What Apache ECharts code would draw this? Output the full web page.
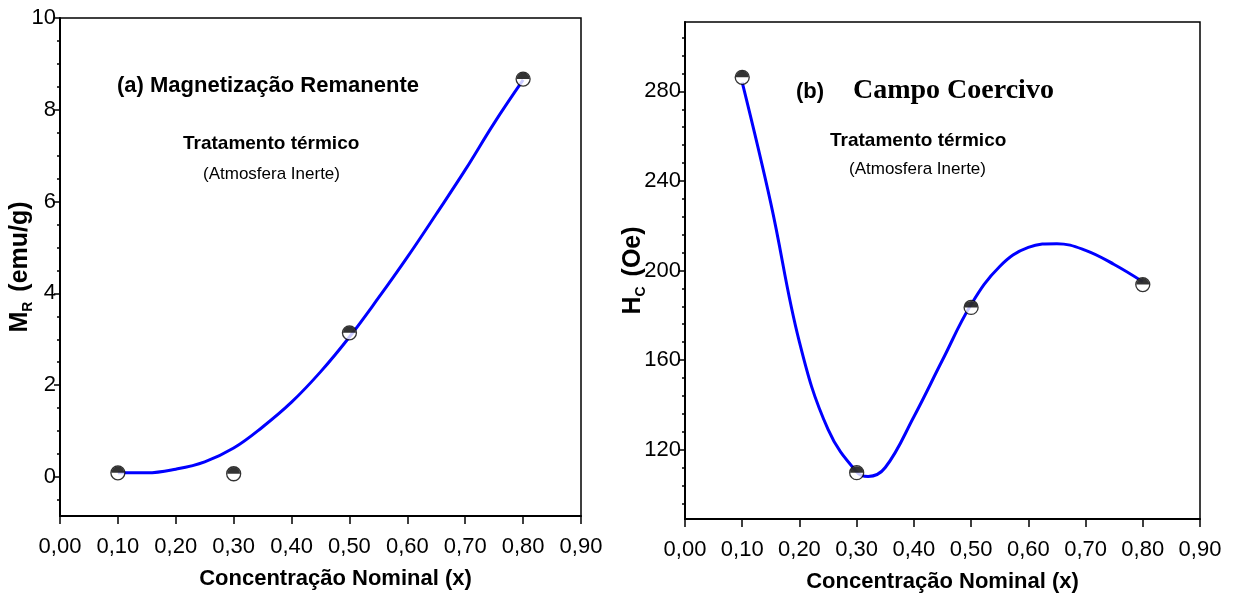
<!DOCTYPE html>
<html>
<head>
<meta charset="utf-8">
<script src="https://cdn.jsdelivr.net/npm/echarts@6/dist/echarts.min.js"></script>
<style>html,body{margin:0;padding:0;background:#fff;}#c{width:1234px;height:593px;}</style>
</head>
<body>
<div id="c"></div>
<script>
// ---- Data ----
var concentrations = [0.1, 0.3, 0.5, 0.8];
var remanence = [0.09, 0.07, 3.14, 8.67];          // M_R (emu/g)
var coercivity = [286.3, 109.7, 183.5, 193.7];      // H_C (Oe)

// fitted curves
var fitX_a = [0.1, 0.15, 0.2, 0.25, 0.3, 0.35, 0.4, 0.45, 0.5, 0.55, 0.6, 0.65, 0.7, 0.75, 0.8];
var fitY_a = [0.09, 0.09, 0.17, 0.33, 0.63, 1.09, 1.63, 2.29, 3.05, 3.9, 4.79, 5.73, 6.69, 7.71, 8.65];
var fitX_b = [0.1, 0.15, 0.2, 0.25, 0.3, 0.32, 0.35, 0.4, 0.45, 0.5, 0.55, 0.6, 0.65, 0.7, 0.75, 0.8];
var fitY_b = [284, 230, 168, 129, 110, 108, 112, 134.7, 160, 184.8, 201.8, 210.3, 212, 209, 202.7, 195];

var yTicks_a = [0, 2, 4, 6, 8, 10];
var yTicks_b = [120, 160, 200, 240, 280];
var xTitle = 'Concentração Nominal (x)';

function pairs(xs, ys) { return xs.map(function (x, i) { return [x, ys[i]]; }); }
function range(start, end, step, skipStep) {
  var out = [];
  for (var v = start; v <= end + 1e-9; v += step) {
    var r = Math.round(v * 1000) / 1000;
    if (Math.abs(r / skipStep - Math.round(r / skipStep)) > 1e-6) out.push(r);
  }
  return out;
}

var FONT = 'Liberation Sans';
var HALF = 'path://M0,10 A10,10 0 0 1 20,10 Z';

function xAxisCfg(gi, padLeft) {
  return {
    type: 'value', gridIndex: gi, min: 0, max: 0.9, interval: 0.1,
    name: xTitle, nameLocation: 'middle', nameGap: 52, nameMoveOverlap: false,
    nameTextStyle: { fontFamily: FONT, fontWeight: 'bold', fontSize: 22, color: '#000', padding: [0, 0, 0, padLeft] },
    axisLine: { show: true, onZero: false, lineStyle: { color: '#000', width: 2 } },
    axisTick: { show: true, inside: false, length: 8, lineStyle: { color: '#000', width: 1.5 } },
    axisLabel: { fontFamily: FONT, fontSize: 22, color: '#000', margin: 20,
      formatter: function (v) { return v.toFixed(2).replace('.', ','); } },
    splitLine: { show: false }
  };
}
function yMainCfg(gi, min, max, ticks, nameRich, gap) {
  return {
    type: 'value', gridIndex: gi, min: min, max: max,
    name: nameRich, nameLocation: 'middle', nameGap: gap, nameRotate: 90, nameMoveOverlap: false,
    nameTextStyle: { fontFamily: FONT, fontWeight: 'bold', fontSize: 25, color: '#000',
      rich: {
        m: { fontFamily: FONT, fontWeight: 'bold', fontSize: 25, color: '#000' },
        s: { fontFamily: FONT, fontWeight: 'bold', fontSize: 14, color: '#000', padding: [16, 3, 0, 0] }
      } },
    axisLine: { show: true, onZero: false, lineStyle: { color: '#000', width: 2 } },
    axisTick: { show: true, inside: false, length: 6, customValues: ticks, lineStyle: { color: '#000', width: 1.5 } },
    axisLabel: { fontFamily: FONT, fontSize: 22, color: '#000', margin: 4, customValues: ticks },
    splitLine: { show: false }
  };
}
function yMinorCfg(gi, min, max, minors) {
  return {
    type: 'value', gridIndex: gi, min: min, max: max, position: 'left',
    axisLine: { show: false, onZero: false },
    axisTick: { show: true, inside: false, length: 3, customValues: minors, lineStyle: { color: '#000', width: 1.5 } },
    axisLabel: { show: false, customValues: minors },
    splitLine: { show: false }
  };
}

var minA = -0.85, maxA = 10, minB = 89, maxB = 311;

function markerSeries(xi, yi, data) {
  return [
    { type: 'scatter', xAxisIndex: xi, yAxisIndex: yi, data: data, symbol: 'circle', symbolSize: 14,
      itemStyle: { color: '#fff', borderColor: '#000', borderWidth: 1.3 }, z: 5, silent: true },
    { type: 'scatter', xAxisIndex: xi, yAxisIndex: yi, data: data, symbol: HALF, symbolSize: [13, 6.5],
      symbolOffset: [0, -3.25], itemStyle: { color: '#000' }, z: 6, silent: true }
  ];
}

var option = {
  animation: false,
  backgroundColor: '#fff',
  grid: [
    { left: 60, top: 18, width: 521, height: 498, containLabel: false, outerBoundsMode: 'none',
      show: true, borderColor: '#000', borderWidth: 1.5, backgroundColor: 'transparent' },
    { left: 685, top: 22, width: 515, height: 497, containLabel: false, outerBoundsMode: 'none',
      show: true, borderColor: '#000', borderWidth: 1.5, backgroundColor: 'transparent' }
  ],
  xAxis: [xAxisCfg(0, 30), xAxisCfg(1, 0)],
  yAxis: [
    yMainCfg(0, minA, maxA, yTicks_a, '{m|M}{s|R}{m| (emu/g)}', 25),
    yMainCfg(1, minB, maxB, yTicks_b, '{m|H}{s|C}{m| (Oe)}', 37),
    yMinorCfg(0, minA, maxA, range(-0.5, 9.5, 0.5, 2)),
    yMinorCfg(1, minB, maxB, range(96, 304, 8, 40))
  ],
  series: [
    { type: 'line', xAxisIndex: 0, yAxisIndex: 0, data: pairs(fitX_a, fitY_a), smooth: 0.4, symbol: 'none',
      lineStyle: { color: '#0000ff', width: 3 }, z: 3, silent: true },
    { type: 'line', xAxisIndex: 1, yAxisIndex: 1, data: pairs(fitX_b, fitY_b), smooth: 0.4, symbol: 'none',
      lineStyle: { color: '#0000ff', width: 3 }, z: 3, silent: true }
  ].concat(markerSeries(0, 0, pairs(concentrations, remanence)))
   .concat(markerSeries(1, 1, pairs(concentrations, coercivity))),
  graphic: [
    { type: 'text', left: 117, top: 75, style: { text: '(a) Magnetização Remanente', font: 'bold 22px "Liberation Sans"', fill: '#000' } },
    { type: 'text', left: 183, top: 134, style: { text: 'Tratamento térmico', font: 'bold 19px "Liberation Sans"', fill: '#000' } },
    { type: 'text', left: 203, top: 166, style: { text: '(Atmosfera Inerte)', font: '17px "Liberation Sans"', fill: '#000' } },
    { type: 'text', left: 796, top: 81, style: { text: '(b)', font: 'bold 22px "Liberation Sans"', fill: '#000' } },
    { type: 'text', left: 853, top: 77, style: { text: 'Campo Coercivo', font: 'bold 28px "Liberation Serif"', fill: '#000' } },
    { type: 'text', left: 830, top: 131, style: { text: 'Tratamento térmico', font: 'bold 19px "Liberation Sans"', fill: '#000' } },
    { type: 'text', left: 849, top: 161, style: { text: '(Atmosfera Inerte)', font: '17px "Liberation Sans"', fill: '#000' } }
  ]
};

var chart = echarts.init(document.getElementById('c'), null, { renderer: 'canvas' });
chart.setOption(option);
</script>
</body>
</html>
